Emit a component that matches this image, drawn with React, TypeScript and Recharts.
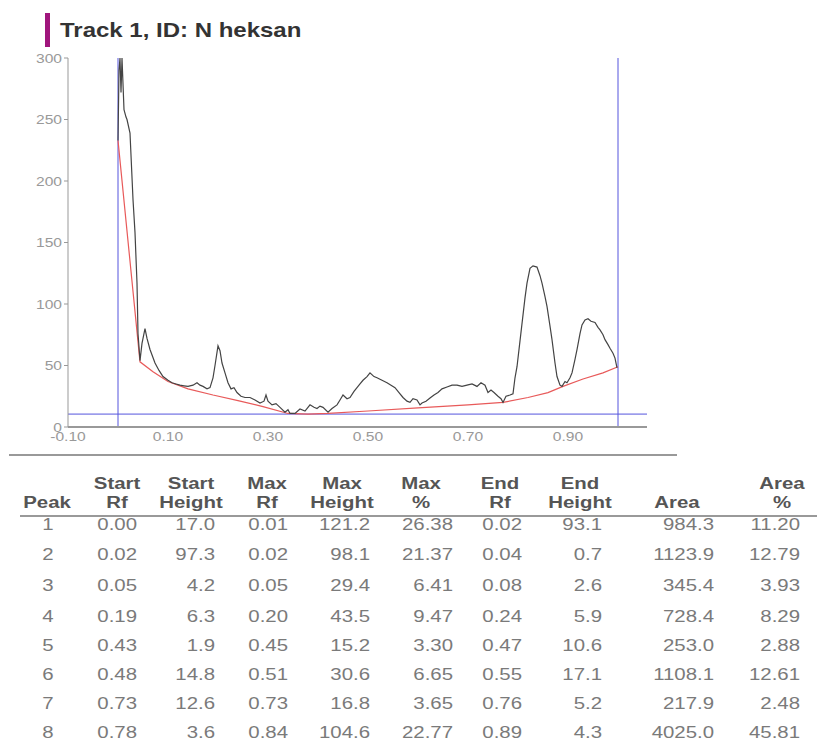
import React from "react";
import { ComposedChart, Line, XAxis, YAxis, ReferenceLine } from "recharts";

// Densitometer trace: [Rf, height]
const trace: [number, number][] = [
  [0.0, 233], [0.002, 290], [0.004, 300], [0.006, 272], [0.008, 300], [0.012, 258], [0.016, 252], [0.018, 250],
  [0.024, 239], [0.03, 185], [0.034, 158], [0.038, 117], [0.04, 76], [0.044, 54], [0.048, 68], [0.054, 80],
  [0.058, 72], [0.064, 63], [0.074, 52], [0.082, 46], [0.09, 41], [0.1, 38], [0.108, 36], [0.116, 35],
  [0.124, 34], [0.132, 33.5], [0.14, 33], [0.15, 34], [0.158, 36], [0.164, 34], [0.17, 33], [0.178, 31],
  [0.184, 32], [0.19, 40], [0.194, 50], [0.2, 66], [0.204, 62], [0.208, 52], [0.214, 44], [0.22, 36],
  [0.226, 31], [0.232, 32], [0.238, 28], [0.246, 25], [0.254, 24], [0.264, 24], [0.274, 22], [0.284, 19.5],
  [0.292, 21], [0.296, 26], [0.3, 21], [0.308, 18], [0.316, 19], [0.324, 16], [0.334, 12], [0.34, 14],
  [0.344, 11], [0.354, 11], [0.364, 14.6], [0.374, 13], [0.384, 18], [0.392, 16], [0.398, 15], [0.404, 17],
  [0.41, 16], [0.42, 12], [0.428, 15], [0.438, 18], [0.444, 22], [0.45, 26], [0.458, 23], [0.464, 24],
  [0.472, 29], [0.478, 32], [0.484, 35], [0.49, 38], [0.498, 41], [0.504, 44], [0.512, 41], [0.518, 40],
  [0.528, 38], [0.538, 36], [0.546, 34], [0.554, 32], [0.562, 28], [0.57, 24], [0.578, 21], [0.584, 20],
  [0.59, 23], [0.598, 22], [0.604, 18], [0.608, 19.5], [0.616, 21], [0.624, 23.6], [0.632, 26], [0.64, 28],
  [0.648, 31], [0.658, 32.5], [0.668, 34], [0.678, 34], [0.688, 33], [0.698, 34], [0.708, 35], [0.718, 33],
  [0.726, 36], [0.734, 34], [0.74, 28], [0.746, 30], [0.752, 28], [0.76, 25], [0.766, 23], [0.77, 20],
  [0.776, 25], [0.784, 26], [0.79, 27], [0.794, 40], [0.798, 49], [0.804, 70], [0.808, 84], [0.814, 105],
  [0.818, 117], [0.824, 129], [0.83, 131], [0.838, 130], [0.844, 123], [0.848, 117], [0.854, 106], [0.858, 98],
  [0.864, 82], [0.868, 71], [0.874, 52], [0.878, 41], [0.884, 34], [0.888, 33], [0.894, 37], [0.898, 36],
  [0.904, 40], [0.908, 44], [0.914, 55], [0.918, 63], [0.924, 76], [0.928, 83], [0.934, 87], [0.94, 88],
  [0.946, 86], [0.954, 85], [0.96, 81], [0.964, 79], [0.97, 75], [0.974, 71], [0.98, 67], [0.984, 64],
  [0.99, 60], [0.994, 56], [0.998, 48],
];

// Baseline: [Rf, height]
const baseline: [number, number][] = [
  [0, 233], [0.044, 53], [0.07, 45], [0.1, 37], [0.14, 31], [0.19, 26], [0.24, 21.5], [0.29, 16.5],
  [0.34, 11], [0.38, 10.5], [0.42, 11], [0.5, 13], [0.6, 15.5], [0.7, 18], [0.77, 20], [0.82, 24],
  [0.86, 28], [0.89, 33], [0.93, 39], [0.97, 44], [1.0, 49],
];

const xTicks = [-0.1, 0.1, 0.3, 0.5, 0.7, 0.9];
const yTicks = [0, 50, 100, 150, 200, 250, 300];

const title = "Track 1, ID: N heksan";

const peaks = [1, 2, 3, 4, 5, 6, 7, 8];
const startRf = [0.0, 0.02, 0.05, 0.19, 0.43, 0.48, 0.73, 0.78];
const startHeight = [17.0, 97.3, 4.2, 6.3, 1.9, 14.8, 12.6, 3.6];
const maxRf = [0.01, 0.02, 0.05, 0.2, 0.45, 0.51, 0.73, 0.84];
const maxHeight = [121.2, 98.1, 29.4, 43.5, 15.2, 30.6, 16.8, 104.6];
const maxPct = [26.38, 21.37, 6.41, 9.47, 3.3, 6.65, 3.65, 22.77];
const endRf = [0.02, 0.04, 0.08, 0.24, 0.47, 0.55, 0.76, 0.89];
const endHeight = [93.1, 0.7, 2.6, 5.9, 10.6, 17.1, 5.2, 4.3];
const area = [984.3, 1123.9, 345.4, 728.4, 253.0, 1108.1, 217.9, 4025.0];
const areaPct = [11.2, 12.79, 3.93, 8.29, 2.88, 12.61, 2.48, 45.81];

const FONT = "'Liberation Sans', Arial, Helvetica, sans-serif";
const SX = 1.2;

const traceData = trace.map(([rf, h]) => ({ rf, h }));
const baseData = baseline.map(([rf, b]) => ({ rf, b }));

const XTick = (props: any) => {
  const { x, y, payload } = props;
  return (
    <text
      x={0}
      y={0}
      dy="0.71em"
      transform={`translate(${x},${y}) scale(${SX},1)`}
      textAnchor="middle"
      fontSize={13}
      fill="#999"
      fontFamily={FONT}
    >
      {Number(payload.value).toFixed(2)}
    </text>
  );
};

const YTick = (props: any) => {
  const { x, y, payload } = props;
  return (
    <text
      x={0}
      y={0}
      dy="0.36em"
      transform={`translate(${x},${y}) scale(${SX},1)`}
      textAnchor="end"
      fontSize={13}
      fill="#999"
      fontFamily={FONT}
    >
      {payload.value}
    </text>
  );
};

const T = ({ x, y, anchor = "end", bold = false, color = "#7a7a7a", size = 17, children }: any) => (
  <text
    x={0}
    y={0}
    transform={`translate(${x},${y}) scale(${SX},1)`}
    textAnchor={anchor}
    fontSize={size}
    fontWeight={bold ? "bold" : "normal"}
    fill={color}
    fontFamily={FONT}
  >
    {children}
  </text>
);

const rowY = [524, 554, 585, 616, 645, 674, 703, 732];

type Col = { h1: string; h2: string; hc: number; right: number; values: string[]; center?: boolean };
const cols: Col[] = [
  { h1: "", h2: "Peak", hc: 47, right: 48, values: peaks.map(String), center: true },
  { h1: "Start", h2: "Rf", hc: 117, right: 137, values: startRf.map((v) => v.toFixed(2)) },
  { h1: "Start", h2: "Height", hc: 191, right: 215, values: startHeight.map((v) => v.toFixed(1)) },
  { h1: "Max", h2: "Rf", hc: 267, right: 288, values: maxRf.map((v) => v.toFixed(2)) },
  { h1: "Max", h2: "Height", hc: 342, right: 370, values: maxHeight.map((v) => v.toFixed(1)) },
  { h1: "Max", h2: "%", hc: 421, right: 453, values: maxPct.map((v) => v.toFixed(2)) },
  { h1: "End", h2: "Rf", hc: 500, right: 522, values: endRf.map((v) => v.toFixed(2)) },
  { h1: "End", h2: "Height", hc: 580, right: 602, values: endHeight.map((v) => v.toFixed(1)) },
  { h1: "", h2: "Area", hc: 677, right: 714, values: area.map((v) => v.toFixed(1)) },
  { h1: "Area", h2: "%", hc: 782, right: 800, values: areaPct.map((v) => v.toFixed(2)) },
];

export default function App() {
  return (
    <div style={{ position: "absolute", left: 0, top: 0, width: 817, height: 742, background: "#fff" }}>
      <div style={{ position: "absolute", left: 0, top: 0 }}>
        <ComposedChart width={817} height={460} margin={{ top: 58, right: 170, bottom: 3, left: 8 }}>
          <XAxis
            type="number"
            dataKey="rf"
            domain={[-0.1, 1.058]}
            ticks={xTicks}
            interval={0}
            allowDataOverflow
            tickLine={false}
            tickSize={0}
            tickMargin={5}
            axisLine={{ stroke: "#999", strokeWidth: 2 }}
            height={30}
            tick={<XTick />}
          />
          <YAxis
            type="number"
            domain={[0, 300]}
            ticks={yTicks}
            interval={0}
            allowDataOverflow
            width={60}
            tickSize={4}
            tickMargin={2}
            axisLine={{ stroke: "#999" }}
            tickLine={{ stroke: "#999" }}
            tick={<YTick />}
          />
          <ReferenceLine y={10.5} stroke="#5555dd" strokeWidth={1} />
          <ReferenceLine x={0} stroke="#5555dd" strokeWidth={1} />
          <ReferenceLine x={1.0} stroke="#5555dd" strokeWidth={1} />
          <Line
            data={baseData}
            dataKey="b"
            type="linear"
            stroke="#e85a5a"
            strokeWidth={1.2}
            dot={false}
            activeDot={false}
            isAnimationActive={false}
          />
          <Line
            data={traceData}
            dataKey="h"
            type="linear"
            stroke="#444"
            strokeWidth={1.2}
            dot={false}
            activeDot={false}
            isAnimationActive={false}
          />
        </ComposedChart>
      </div>
      <svg width={817} height={742} style={{ position: "absolute", left: 0, top: 0, pointerEvents: "none" }}>
        <rect x={45} y={13} width={5} height={34} fill="#a0157c" />
        <T x={60} y={37} anchor="start" bold color="#333" size={20}>
          {title}
        </T>
        <line x1={9} y1={455} x2={677} y2={455} stroke="#999" strokeWidth={2} />
        {cols.map((c, i) => (
          <g key={"h" + i}>
            {c.h1 ? (
              <T x={c.hc} y={489} anchor="middle" bold color="#555">
                {c.h1}
              </T>
            ) : null}
            <T x={c.hc} y={508} anchor="middle" bold color="#555">
              {c.h2}
            </T>
          </g>
        ))}
        <line x1={20} y1={516} x2={817} y2={516} stroke="#999" strokeWidth={2} />
        {cols.map((c, i) =>
          c.values.map((v, r) => (
            <T key={"c" + i + "_" + r} x={c.right} y={rowY[r] + 6} anchor={c.center ? "middle" : "end"}>
              {v}
            </T>
          ))
        )}
      </svg>
    </div>
  );
}
